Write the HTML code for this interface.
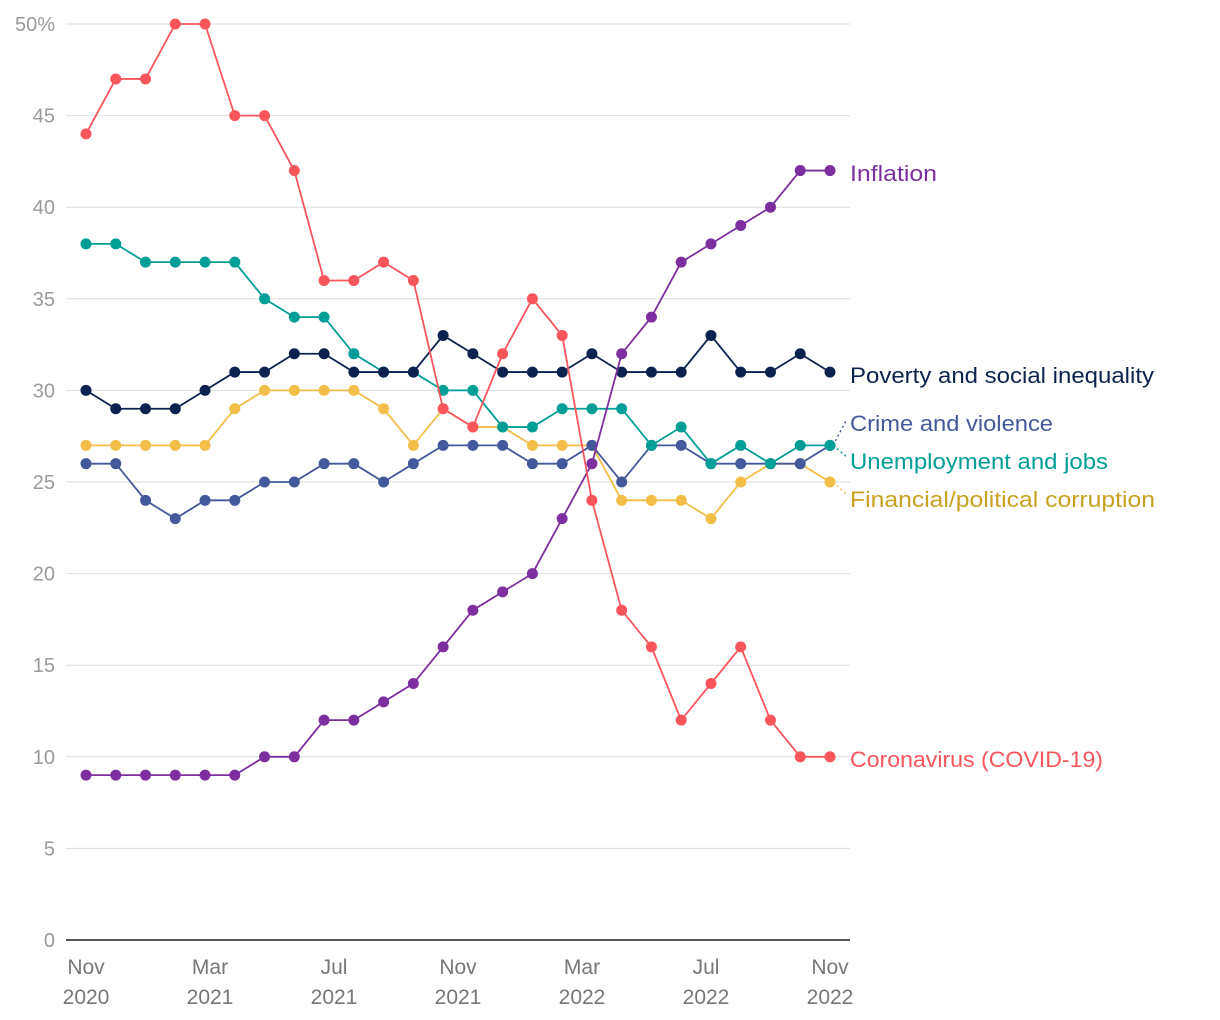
<!DOCTYPE html>
<html><head><meta charset="utf-8">
<style>
html,body{margin:0;padding:0;background:#fff;}
svg{display:block;font-family:"Liberation Sans",Arial,sans-serif;}
</style></head>
<body>
<svg id="chart" width="1220" height="1020" viewBox="0 0 1220 1020"></svg>
<script>
const yTicks = [0,5,10,15,20,25,30,35,40,45,50];
const xTickMonths = [0,4,8,12,16,20,24];
const xTickLabels = [["Nov","2020"],["Mar","2021"],["Jul","2021"],["Nov","2021"],["Mar","2022"],["Jul","2022"],["Nov","2022"]];
const corona = [44,47,47,50,50,45,45,42,36,36,37,36,29,28,32,35,33,24,18,16,12,14,16,12,10,10];
const inflation = [9,9,9,9,9,9,10,10,12,12,13,14,16,18,19,20,23,26,32,34,37,38,39,40,42,42];
const poverty = [30,29,29,29,30,31,31,32,32,31,31,31,33,32,31,31,31,32,31,31,31,33,31,31,32,31];
const crime = [26,26,24,23,24,24,25,25,26,26,25,26,27,27,27,26,26,27,25,27,27,26,26,26,26,27];
const unemployment = [38,38,37,37,37,37,35,34,34,32,31,31,30,30,28,28,29,29,29,27,28,26,27,26,27,27];
const financial = [27,27,27,27,27,29,30,30,30,30,29,27,29,28,28,27,27,27,24,24,24,23,25,26,26,25];

const NS="http://www.w3.org/2000/svg";
const svg=document.getElementById('chart');
const X0=86,X1=830,Y0=940,Y50=24;
const y=v=>Y0+(Y50-Y0)*v/50;
const xi=(i,n)=>X0+(X1-X0)*i/(n-1);
const xm=m=>X0+(X1-X0)*m/24;
function mk(tag,attrs,parent){const e=document.createElementNS(NS,tag);for(const k in attrs)e.setAttribute(k,attrs[k]);(parent||svg).appendChild(e);return e;}

const grid=mk('g',{});


yTicks.forEach(t=>{
  if(t>0){const l=mk('line',{x1:66,x2:850,y1:y(t),y2:y(t),stroke:'#dedede','stroke-width':1},grid);
  
  }
  const tx=mk('text',{x:55,y:y(t)+7,'text-anchor':'end','font-size':20,fill:'#9a9a9a'});
  tx.textContent=t===50?'50%':String(t);
  
  
});
const ax=mk('line',{x1:66,x2:850,y1:Y0,y2:Y0,stroke:'#222','stroke-width':1.5});


xTickMonths.forEach((m,i)=>{
  const t=mk('text',{x:xm(m),y:974,'text-anchor':'middle','font-size':21,fill:'#777'});
  
  
  const a=mk('tspan',{x:xm(m)},t);a.textContent=xTickLabels[i][0];
  const b=mk('tspan',{x:xm(m),dy:30},t);b.textContent=xTickLabels[i][1];
});

const series=[
 {name:'financial',data:financial,color:'#f2be48',label:'Financial/political corruption',lc:'#c9a020',ly:500,w:305},
 {name:'crime',data:crime,color:'#44599c',label:'Crime and violence',lc:'#44599c',ly:424,w:203},
 {name:'unemployment',data:unemployment,color:'#009e96',label:'Unemployment and jobs',lc:'#009e96',ly:462,w:258},
 {name:'poverty',data:poverty,color:'#0b2250',label:'Poverty and social inequality',lc:'#0b2250',ly:376,w:304},
 {name:'inflation',data:inflation,color:'#7d2f9f',label:'Inflation',lc:'#7d2f9f',ly:174,w:87},
 {name:'coronavirus',data:corona,color:'#f9565c',label:'Coronavirus (COVID-19)',lc:'#f9565c',ly:760,w:253}
];
series.forEach(s=>{
  const g=mk('g',{});
  
  
  const n=s.data.length;
  const pts=s.data.map((v,i)=>xi(i,n)+','+y(v)).join(' ');
  const pl=mk('polyline',{points:pts,fill:'none',stroke:s.color,'stroke-width':1.8},g);
  
  
  s.data.forEach((v,i)=>{
    const c=mk('circle',{cx:xi(i,n),cy:y(v),r:5.5,fill:s.color},g);
    
    
  });
  const lastY=y(s.data[n-1]);
  if(Math.abs(lastY-(s.ly-7))>8){
    const d=mk('line',{x1:X1+3,y1:lastY,x2:847,y2:s.ly-5,stroke:s.color,'stroke-width':1.5,'stroke-dasharray':'2,3'},g);
    
    
  }
  const t=mk('text',{x:850,y:s.ly+7,'font-size':22,fill:s.lc,textLength:s.w,lengthAdjust:'spacingAndGlyphs'},g);
  t.textContent=s.label;
  
  
});
</script>
</body></html>
